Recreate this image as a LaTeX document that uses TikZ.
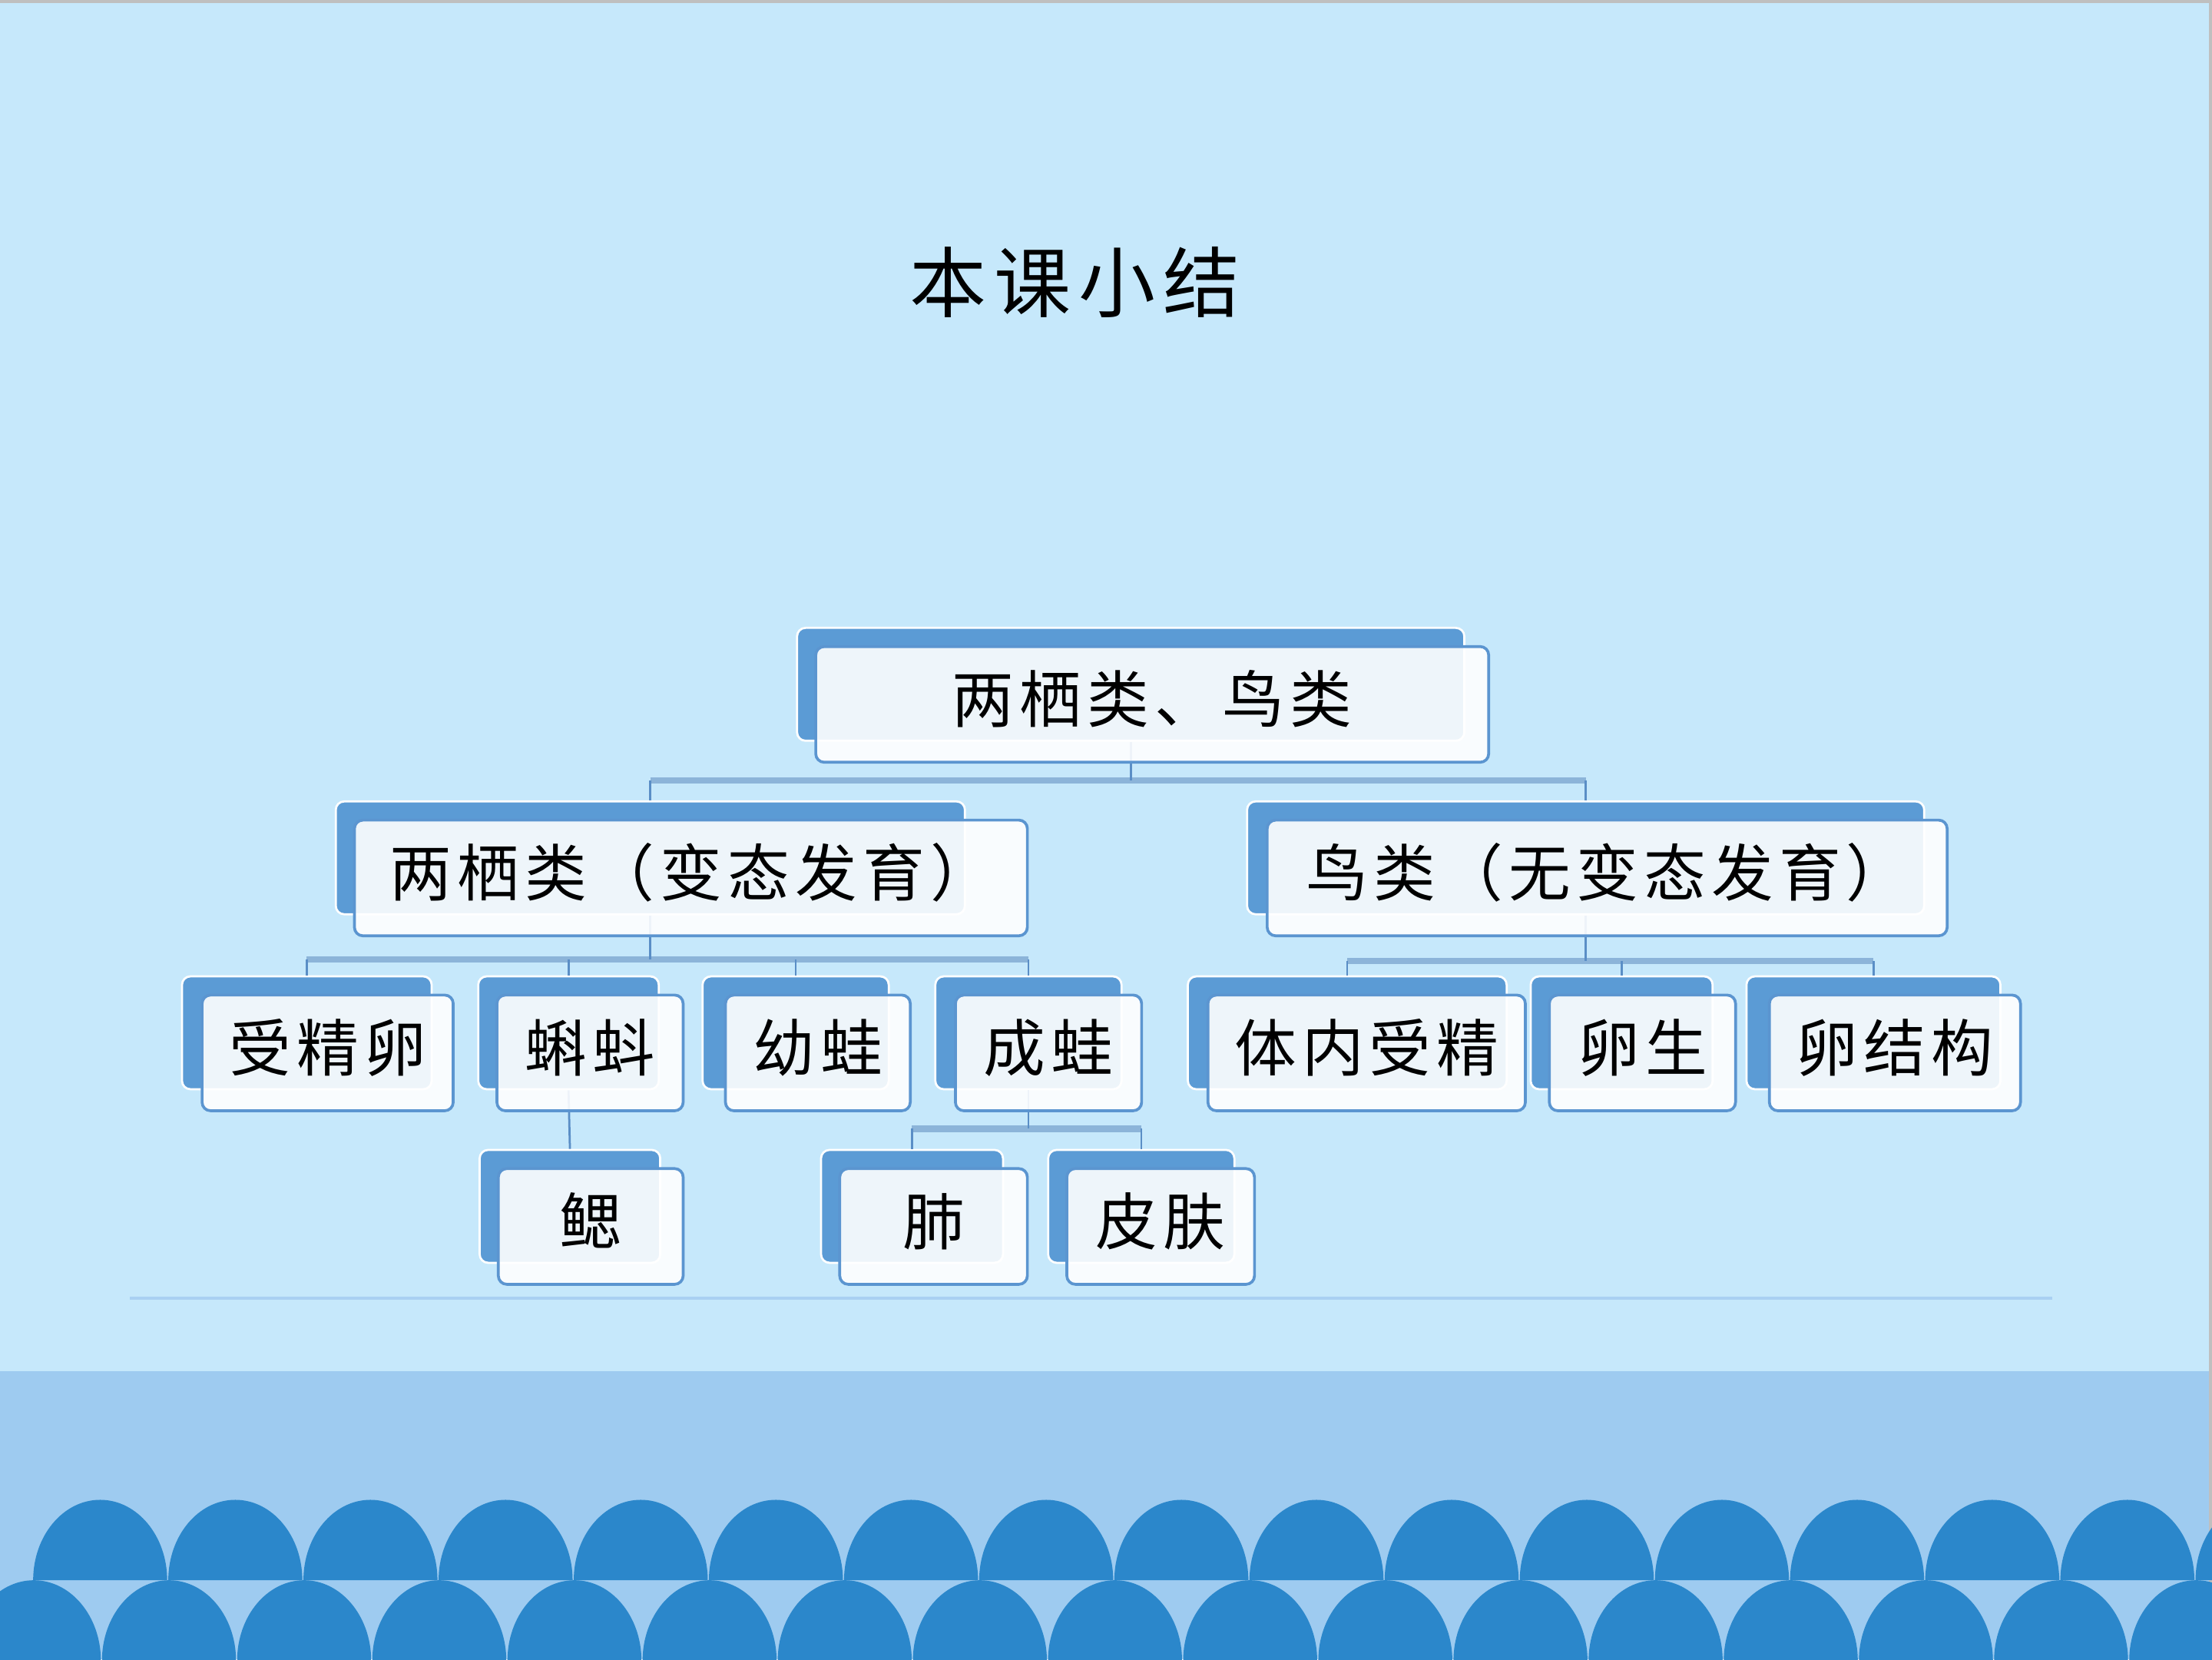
\documentclass[tikz,border=0pt]{standalone}
\usepackage{fontspec}
\setmainfont{Noto Sans CJK SC}
\newfontfamily\boxfont[LetterSpace=9]{Noto Sans CJK SC}
\newfontfamily\titlefont[LetterSpace=10]{Noto Sans CJK SC}
\usepackage{tikz}
\usetikzlibrary{positioning,calc}
\newdimen\px \px=0.2mm
\definecolor{skybg}{HTML}{C6E8FB}
\definecolor{waveband}{HTML}{9ECBF0}
\definecolor{wavedark}{HTML}{2B87CB}
\definecolor{boxblue}{HTML}{5B9BD5}
\definecolor{edgeblue}{HTML}{5B95D0}
\definecolor{linkblue}{HTML}{5A8EC6}
\definecolor{barblue}{HTML}{8CB4D9}
\definecolor{sepblue}{HTML}{A9D0F2}
\tikzset{
  backbox/.style={rectangle,rounded corners=1.2mm,fill=boxblue,draw=white,
    line width=0.3mm,minimum height=80\px,inner sep=0pt},
  frontbox/.style={rectangle,rounded corners=1.2mm,fill=white,fill opacity=0.9,
    text opacity=1,draw=edgeblue,line width=0.4mm,minimum height=82\px,
    inner sep=0pt,text height=22pt,text depth=7.5pt,anchor=north west,
    font=\boxfont\fontsize{25}{28}\selectfont},
  vline/.style={draw=linkblue,line width=0.3mm},
  hbar/.style={draw=barblue,line width=0.9mm},
  arch/.style={fill=wavedark},
}

\begin{document}
\begin{tikzpicture}[x=0.2mm,y=-0.2mm]
  \useasboundingbox (0,0) rectangle (1568,1176);
  \fill[skybg] (0,0) rectangle (1568,1176);
  \fill[waveband] (0,972) rectangle (1568,1176);
  \draw[black!25,line width=0.4mm] (0,1) -- (1568,1) (1567,0) -- (1567,1176);
  \foreach \i in {0,...,16}{
    \fill[arch] ({71+95.8*\i-47.5},1120) arc[start angle=180,end angle=360,x radius=47.5,y radius=57] -- cycle;
    \fill[arch] ({24+95.8*\i-47.5},1177) arc[start angle=180,end angle=360,x radius=47.5,y radius=57] -- cycle;
  }
  \draw[sepblue,line width=0.4mm] (92,920) -- (1455,920);

  \node[font=\titlefont\fontsize{31}{34}\selectfont] (title) at (762,200) {本课小结};

  % back boxes
  \node[backbox,minimum width=473\px] (top) at (801.5,485) {};
  \node[backbox,minimum width=446\px] (amph) at (461,608) {};
  \node[backbox,minimum width=480\px] (bird) at (1124,608) {};
  \node[backbox,minimum width=177\px] (egg) at (217.5,732) {};
  \node[backbox,minimum width=128\px] (tadpole) at (403,732) {};
  \node[backbox,minimum width=132\px] (froglet) at (564,732) {};
  \node[backbox,minimum width=132\px] (frog) at (729,732) {};
  \node[backbox,minimum width=226\px] (fert) at (955,732) {};
  \node[backbox,minimum width=129\px] (ovi) at (1149.5,732) {};
  \node[backbox,minimum width=180\px] (eggst) at (1328,732) {};
  \node[backbox,minimum width=128\px] (gill) at (404,855) {};
  \node[backbox,minimum width=129\px] (lung) at (646.5,855) {};
  \node[backbox,minimum width=132\px] (skin) at (809,855) {};

  % connectors
  \coordinate (topbar) at (0,553);
  \coordinate (amphbar) at (0,680);
  \coordinate (birdbar) at (0,681);
  \coordinate (frogbar) at (0,800);
  \draw[hbar] (amph.north |- topbar) -- (bird.north |- topbar);
  \draw[hbar] (egg.north |- amphbar) -- (frog.north |- amphbar);
  \draw[hbar] (fert.north |- birdbar) -- (eggst.north |- birdbar);
  \draw[hbar] (lung.north |- frogbar) -- (skin.north |- frogbar);
  \draw[vline] (top.south) -- (top.south |- topbar);
  \foreach \c in {amph,bird} \draw[vline] (\c.north |- topbar) -- (\c.north);
  \draw[vline] (amph.south) -- (amph.south |- amphbar);
  \foreach \c in {egg,tadpole,froglet,frog} \draw[vline] (\c.north |- amphbar) -- (\c.north);
  \draw[vline] (bird.south) -- (bird.south |- birdbar);
  \foreach \c in {fert,ovi,eggst} \draw[vline] (\c.north |- birdbar) -- (\c.north);
  \draw[vline] (tadpole.south) -- (gill.north);
  \draw[vline] (frog.south) -- (frog.south |- frogbar);
  \foreach \c in {lung,skin} \draw[vline] (\c.north |- frogbar) -- (\c.north);

  % front boxes
  \node[frontbox,minimum width=477\px] (top-f) at ([shift={(13,13)}]top.north west) {两栖类、鸟类};
  \node[frontbox,minimum width=477\px] (amph-f) at ([shift={(13,13)}]amph.north west) {两栖类（变态发育）};
  \node[frontbox,minimum width=482\px] (bird-f) at ([shift={(14,13)}]bird.north west) {鸟类（无变态发育）};
  \node[frontbox,minimum width=178\px] (egg-f) at ([shift={(14,13)}]egg.north west) {受精卵};
  \node[frontbox,minimum width=132\px] (tadpole-f) at ([shift={(13,13)}]tadpole.north west) {蝌蚪};
  \node[frontbox,minimum width=131\px] (froglet-f) at ([shift={(16,13)}]froglet.north west) {幼蛙};
  \node[frontbox,minimum width=132\px] (frog-f) at ([shift={(14,13)}]frog.north west) {成蛙};
  \node[frontbox,minimum width=225\px] (fert-f) at ([shift={(14,13)}]fert.north west) {体内受精};
  \node[frontbox,minimum width=132\px] (ovi-f) at ([shift={(13,13)}]ovi.north west) {卵生};
  \node[frontbox,minimum width=178\px] (eggst-f) at ([shift={(16,13)}]eggst.north west) {卵结构};
  \node[frontbox,minimum width=131\px] (gill-f) at ([shift={(13,13)}]gill.north west) {鳃};
  \node[frontbox,minimum width=133\px] (lung-f) at ([shift={(13,13)}]lung.north west) {肺};
  \node[frontbox,minimum width=133\px] (skin-f) at ([shift={(13,13)}]skin.north west) {皮肤};
\end{tikzpicture}
\end{document}
